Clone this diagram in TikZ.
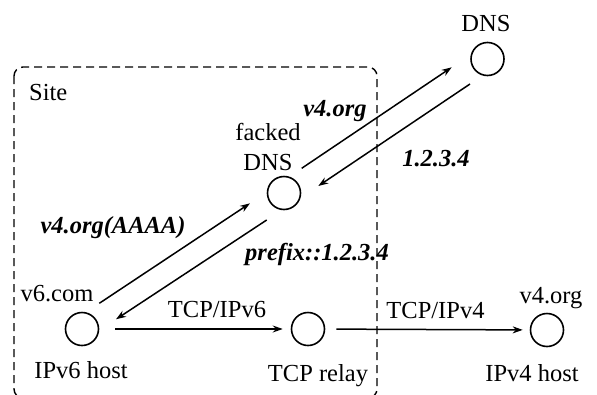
\documentclass[tikz,border=0pt]{standalone}
\usepackage{fontspec}
\setmainfont{Liberation Serif}
\usetikzlibrary{arrows.meta,calc}
\begin{document}
\begin{tikzpicture}[x=1pt,y=-1pt,
  host/.style={draw,circle,line width=1.6pt,minimum size=33pt,inner sep=0pt},
  lbl/.style={font=\fontsize{24.5}{28}\selectfont,inner sep=0pt,anchor=base},
  blbl/.style={lbl,font=\fontsize{24.5}{28}\selectfont\bfseries\itshape},
  arr/.style={line width=1.5pt,-{Stealth[length=10pt,width=7pt]}},
  sitebox/.style={line width=1.4pt,dash pattern=on 8pt off 5pt,rounded corners=9pt}]
\useasboundingbox (0,0) rectangle (597,394);
\begin{scope}
\clip (0,0) rectangle (597,394);
\draw[sitebox] (14,67) rectangle (377,398);
\end{scope}
% nodes
\node[host] (dns) at (487.5,59) {};
\node[host] (fdns) at (284,193) {};
\node[host] (v6) at (82,329) {};
\node[host] (relay) at (308,329) {};
\node[host] (v4) at (547,330) {};
% labels
\node[lbl] (tdns) at (486,31.5) {DNS};
\node[lbl,anchor=base west] (tsite) at (29,100) {Site};
\node[lbl] (tfacked) at (268,140) {facked};
\node[lbl] (tfdns) at (268,170) {DNS};
\node[lbl] (tv6com) at (57,301.5) {v6.com};
\node[lbl] (tv6host) at (81,378) {IPv6 host};
\node[lbl] (trelay) at (318,381.5) {TCP relay};
\node[lbl] (tv4host) at (532,381.5) {IPv4 host};
\node[lbl] (tv4org) at (551,303) {v4.org};
\node[lbl] (ttcp6) at (217,317.5) {TCP/IPv6};
\node[lbl] (ttcp4) at (435.5,318) {TCP/IPv4};
\node[blbl] (q1) at (335,116.5) {v4.org};
\node[blbl] (r1) at (436,166) {1.2.3.4};
\node[blbl] (q2) at (113,233) {v4.org(AAAA)};
\node[blbl] (r2) at (317,260) {prefix::1.2.3.4};
% connectors
\draw[arr] ($(v6)+(17.3,-25.7)$) -- ($(fdns)+(-34,10.3)$);
\draw[arr] ($(fdns)+(-17.3,27)$) -- ($(v6)+(34,-9.7)$);
\draw[arr] ($(fdns)+(17.7,-24.7)$) -- ($(dns)+(-35.8,8.3)$);
\draw[arr] ($(dns)+(-17.5,25)$) -- ($(fdns)+(34.3,-7)$);
\draw[arr,shorten <=16pt,shorten >=8pt] (v6) -- (relay);
\draw[arr,shorten <=11pt,shorten >=7pt] (relay) -- (v4);
\end{tikzpicture}
\end{document}
